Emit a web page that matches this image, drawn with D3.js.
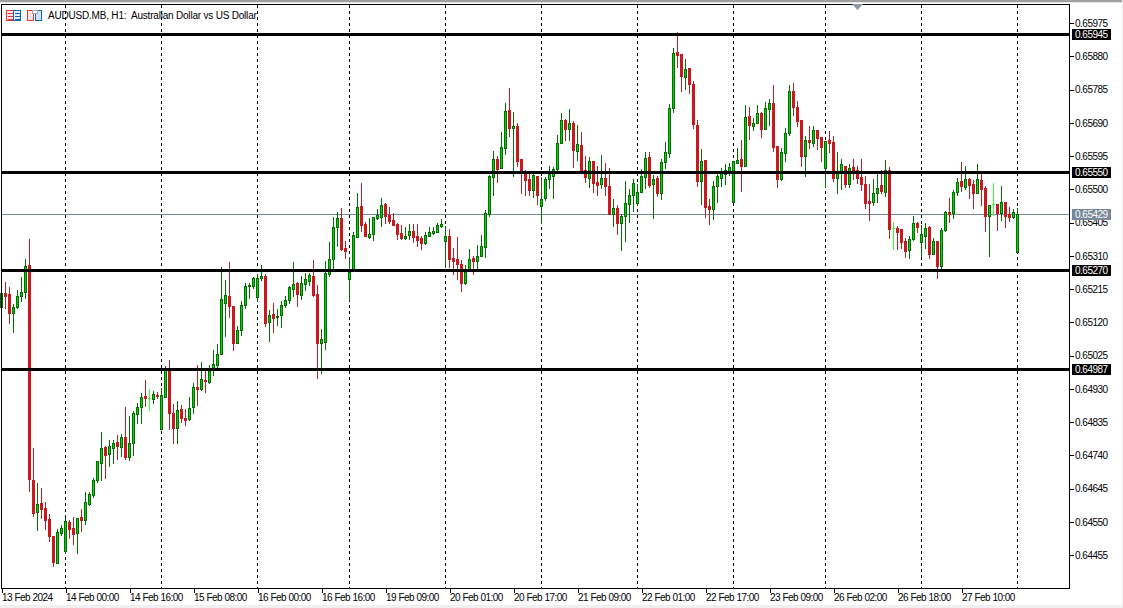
<!DOCTYPE html>
<html>
<head>
<meta charset="UTF-8">
<title>AUDUSD.MB H1</title>
<script src="https://d3js.org/d3.v7.min.js"></script>
<style>
    * { margin: 0; padding: 0; }
    body { background: #fff; width: 1123px; height: 608px; overflow: hidden; }
    svg { display: block; }
    text { font-family: "Liberation Sans", Arial, sans-serif; font-size: 10px; letter-spacing: -0.5px; fill: #000; white-space: pre; }
</style>
</head>
<body>
<svg id="chart" width="1123" height="608"></svg>
<script>
// prices are in points (1 point = 0.00001)
const opens = [
65164,65203,65201,65146,65164,65195,65206,65284,64670,64578,
64604,64589,64558,64510,64432,64518,64467,64549,64532,64518,
64564,64555,64601,64627,64670,64718,64764,64744,64761,64778,
64764,64793,64735,64775,64858,64878,64909,64904,64901,64912,
64816,64907,64981,64861,64818,64872,64847,64844,64878,64935,
64930,64955,64950,64987,64998,65030,65175,65195,65167,65061,
65098,65170,65224,65224,65192,65247,65253,65121,65144,65135,
65141,65170,65184,65215,65232,65198,65230,65238,65253,65201,
65061,65064,65258,65301,65392,65418,65332,65244,65273,65364,
65452,65401,65364,65372,65418,65421,65458,65427,65412,65401,
65375,65361,65370,65381,65367,65361,65347,65367,65375,65378,
65395,65352,65367,65304,65301,65287,65232,65270,65304,65295,
65310,65335,65429,65535,65586,65561,65618,65727,65675,65681,
65586,65552,65530,65498,65538,65452,65475,65530,65538,65558,
65632,65698,65672,65689,65609,65627,65555,65532,65581,65521,
65515,65532,65510,65429,65447,65404,65424,65458,65484,65461,
65492,65535,65592,65515,65532,65489,65578,65603,65732,65893,
65887,65821,65847,65801,65684,65524,65584,65452,65444,65510,
65532,65544,65552,65464,65575,65586,65567,65709,65681,65689,
65718,65672,65730,65746,65624,65530,65604,65661,65781,65735,
65698,65595,65641,65632,65670,65649,65561,65641,65635,65532,
65549,65567,65515,65564,65555,65535,65515,65467,65464,65489,
65512,65492,65555,65390,65390,65387,65352,65327,65358,65404,
65349,65367,65392,65315,65352,65281,65384,65435,65432,65492,
65524,65507,65530,65515,65489,65527,65504,65424,65458,65458,
65432,65464,65429,65421,65321];
const highs = [
65203,65235,65221,65173,65212,65250,65301,65358,64761,64661,
64647,64606,64572,64510,64530,64541,64561,64555,64564,64561,
64586,64635,64635,64676,64724,64807,64767,64784,64784,64799,
64802,64878,64852,64867,64889,64918,64955,64930,64924,64921,
64933,64996,65013,64887,64895,64884,64872,64907,64947,64998,
65007,64981,64998,65041,65059,65279,65241,65292,65167,65110,
65181,65232,65232,65250,65258,65284,65258,65155,65175,65158,
65181,65195,65224,65292,65235,65253,65261,65261,65298,65227,
65101,65295,65349,65421,65435,65447,65352,65307,65378,65489,
65518,65407,65418,65421,65444,65475,65461,65450,65432,65404,
65398,65392,65401,65401,65401,65367,65378,65392,65392,65404,
65415,65395,65387,65332,65364,65298,65284,65330,65310,65341,
65370,65441,65541,65609,65595,65664,65746,65790,65721,65689,
65586,65555,65547,65547,65538,65535,65535,65567,65564,65655,
65718,65701,65730,65695,65684,65664,65595,65592,65581,65567,
65598,65575,65561,65472,65455,65429,65524,65501,65530,65515,
65558,65606,65606,65541,65538,65586,65635,65744,65904,65950,
65887,65873,65847,65809,65698,65615,65584,65472,65524,65549,
65561,65572,65575,65581,65618,65641,65741,65735,65704,65741,
65721,65749,65758,65798,65624,65618,65675,65798,65804,65752,
65698,65652,65681,65681,65670,65649,65638,65667,65652,65606,
65586,65567,65572,65586,65567,65586,65538,65515,65530,65547,
65555,65584,65564,65407,65395,65387,65361,65367,65424,65407,
65398,65404,65395,65361,65352,65390,65438,65475,65498,65532,
65578,65567,65532,65527,65572,65547,65510,65455,65518,65458,
65510,65464,65450,65444,65447];
const lows = [
65164,65161,65118,65092,65161,65181,65189,64638,64567,64527,
64561,64530,64495,64424,64432,64513,64461,64504,64487,64461,
64524,64544,64598,64621,64664,64670,64676,64710,64718,64730,
64738,64730,64727,64741,64832,64832,64881,64870,64889,64904,
64816,64907,64816,64775,64775,64835,64827,64841,64861,64884,
64927,64921,64947,64970,64990,65030,65081,65135,65041,65061,
65084,65161,65189,65218,65181,65241,65110,65067,65092,65112,
65107,65164,65175,65195,65167,65187,65212,65227,65195,64961,
64975,65044,65253,65273,65338,65327,65304,65184,65273,65364,
65381,65367,65361,65355,65415,65395,65404,65404,65398,65358,
65358,65358,65358,65349,65338,65330,65344,65367,65373,65378,
65392,65279,65279,65258,65244,65209,65230,65270,65258,65270,
65310,65307,65424,65484,65521,65561,65601,65652,65538,65567,
65489,65484,65484,65478,65458,65404,65470,65504,65475,65555,
65632,65641,65641,65564,65584,65552,65521,65507,65492,65484,
65504,65484,65429,65395,65372,65327,65352,65407,65438,65455,
65492,65504,65507,65418,65481,65472,65561,65592,65721,65850,
65781,65787,65775,65675,65510,65458,65421,65401,65415,65464,
65510,65515,65541,65464,65575,65495,65567,65644,65670,65689,
65649,65672,65684,65609,65507,65527,65581,65655,65712,65681,
65567,65538,65618,65624,65615,65581,65507,65606,65524,65489,
65501,65507,65507,65530,65518,65498,65447,65412,65455,65464,
65489,65481,65361,65330,65330,65332,65307,65304,65355,65378,
65310,65332,65304,65315,65247,65273,65381,65407,65418,65484,
65495,65501,65475,65447,65489,65455,65381,65310,65427,65384,
65412,65392,65410,65418,65321];
const closes = [
65203,65195,65146,65164,65195,65206,65281,64673,64575,64601,
64586,64555,64510,64435,64521,64532,64552,64530,64515,64561,
64555,64606,64629,64670,64724,64761,64741,64767,64775,64767,
64793,64735,64775,64861,64878,64906,64904,64904,64915,64909,
64912,64984,64861,64818,64870,64847,64841,64875,64935,64930,
64958,64952,64981,65001,65030,65187,65198,65167,65061,65098,
65170,65224,65227,65247,65247,65253,65118,65141,65132,65138,
65170,65184,65221,65230,65201,65232,65244,65256,65198,65061,
65073,65261,65301,65392,65418,65330,65324,65264,65370,65450,
65398,65367,65372,65421,65427,65455,65424,65410,65398,65372,
65361,65367,65381,65364,65355,65347,65370,65378,65381,65398,
65401,65367,65301,65295,65287,65232,65264,65301,65295,65310,
65338,65432,65538,65586,65558,65621,65724,65675,65681,65581,
65549,65527,65498,65541,65484,65472,65530,65544,65558,65632,
65698,65672,65689,65612,65629,65555,65535,65581,65518,65512,
65532,65510,65429,65447,65404,65424,65461,65484,65518,65492,
65538,65589,65512,65530,65489,65578,65606,65732,65890,65884,
65824,65844,65801,65687,65524,65581,65450,65444,65510,65538,
65547,65555,65564,65581,65584,65567,65706,65684,65689,65718,
65672,65732,65746,65621,65530,65606,65661,65781,65735,65695,
65595,65641,65635,65670,65647,65621,65638,65632,65532,65549,
65572,65515,65561,65549,65532,65515,65461,65461,65489,65504,
65495,65555,65387,65390,65378,65349,65324,65358,65404,65392,
65372,65390,65315,65352,65281,65384,65435,65429,65492,65521,
65510,65530,65512,65489,65530,65501,65424,65455,65458,65432,
65464,65424,65421,65435,65429];

const rightTicks = [65975,65880,65785,65690,65595,65500,65405,65310,65215,65120,65025,64930,64835,64740,64645,64550,64455];
const levels = [65945,65550,65270,64987];
const lastPrice = 65429;
const timeIndex = [0,16,32,48,64,80,96,112,128,144,160,176,192,208,224,240];
const timeLabels = ["13 Feb 2024","14 Feb 00:00","14 Feb 16:00","15 Feb 08:00","16 Feb 00:00","16 Feb 16:00","19 Feb 09:00","20 Feb 01:00","20 Feb 17:00","21 Feb 09:00","22 Feb 01:00","22 Feb 17:00","23 Feb 09:00","26 Feb 02:00","26 Feb 18:00","27 Feb 10:00"];
const dayIndex = [16,40,64,87,111,135,159,183,206,230,254];

const LEFT = 1, RIGHT = 1069, TOP = 4, BOTTOM = 588;
const C_UP = "#00d800", C_UP_LINE = "#056b05", C_DOWN = "#c81a1e", C_DOWN_LINE = "#b22222", C_DOJI = "#32ff32", C_LAST = "#778899";

const x = d3.scaleLinear().domain([0, 254]).range([1, 1017]);
const yRaw = d3.scaleLinear().domain([65975, 64455]).range([23, 555]);
const y = v => Math.round(yRaw(v));
const fmt = v => (v / 100000).toFixed(5);

const svg = d3.select("#chart");

// window chrome
svg.append("rect").attr("width", 1123).attr("height", 2).attr("fill", "#a0a0a0");
svg.append("rect").attr("y", 2).attr("width", 1123).attr("height", 1).attr("fill", "#e4e4e4");
svg.append("rect").attr("x", 1122).attr("width", 1).attr("height", 608).attr("fill", "#f0f0f0");
svg.append("rect").attr("y", 605).attr("width", 1123).attr("height", 3).attr("fill", "#f0f0f0");

// title icons
const icons = svg.append("g").attr("shape-rendering", "crispEdges");
icons.append("rect").attr("x", 6.5).attr("y", 10.5).attr("width", 7).attr("height", 10).attr("fill", "#fbe3e3").attr("stroke", "#e8383a");
icons.append("rect").attr("x", 13.5).attr("y", 10.5).attr("width", 7).attr("height", 10).attr("fill", "#e3effa").attr("stroke", "#0a6ab5");
[13, 16, 19].forEach(v => {
    icons.append("rect").attr("x", 8).attr("y", v - 0.5).attr("width", 5).attr("height", 1).attr("fill", "#e8383a");
    icons.append("rect").attr("x", 15).attr("y", v - 0.5).attr("width", 5).attr("height", 1).attr("fill", "#0a6ab5");
});
icons.append("rect").attr("x", 27.5).attr("y", 10.5).attr("width", 6).attr("height", 10).attr("fill", "#fbe3e3").attr("stroke", "#e8383a");
icons.append("rect").attr("x", 35.5).attr("y", 10.5).attr("width", 6).attr("height", 10).attr("fill", "#cfe3f5").attr("stroke", "#0a6ab5");
icons.append("rect").attr("x", 32).attr("y", 10.5).attr("width", 5).attr("height", 3).attr("fill", "#fff").attr("stroke", "#aaaaaa");

svg.append("text").attr("x", 48).attr("y", 19).style("letter-spacing", "-0.2px")
    .text("AUDUSD.MB, H1:  Australian Dollar vs US Dollar");

// day separators
svg.append("g").selectAll("line").data(dayIndex).enter().append("line")
    .attr("x1", d => x(d) + 0.5).attr("x2", d => x(d) + 0.5)
    .attr("y1", TOP + 1).attr("y2", BOTTOM)
    .attr("stroke", "#000").attr("stroke-dasharray", "3,3").attr("shape-rendering", "crispEdges");

// last price line
svg.append("line").attr("x1", LEFT + 1).attr("x2", RIGHT)
    .attr("y1", y(lastPrice) + 0.5).attr("y2", y(lastPrice) + 0.5)
    .attr("stroke", C_LAST).attr("shape-rendering", "crispEdges");

// candles
const bars = d3.range(opens.length).map(i => ({ i, o: opens[i], h: highs[i], l: lows[i], c: closes[i] }));
const candles = svg.append("g").attr("shape-rendering", "crispEdges");
candles.selectAll(".wick").data(bars).enter().append("rect")
    .attr("class", "wick")
    .attr("x", d => x(d.i)).attr("width", 1)
    .attr("y", d => y(d.h)).attr("height", d => Math.max(1, y(d.l) - y(d.h) + 1))
    .attr("fill", d => d.c > d.o ? C_UP_LINE : d.c < d.o ? C_DOWN_LINE : C_DOJI);
candles.selectAll(".up").data(bars.filter(d => d.c > d.o)).enter().append("rect")
    .attr("class", "up")
    .attr("x", d => x(d.i) - 0.5).attr("width", 2)
    .attr("y", d => y(d.c) + 0.5).attr("height", d => y(d.o) - y(d.c))
    .attr("fill", C_UP).attr("stroke", C_UP_LINE);
candles.selectAll(".down").data(bars.filter(d => d.c < d.o)).enter().append("rect")
    .attr("class", "down")
    .attr("x", d => x(d.i) - 1).attr("width", 3)
    .attr("y", d => y(d.o)).attr("height", d => y(d.c) - y(d.o) + 1)
    .attr("fill", C_DOWN);
candles.selectAll(".doji").data(bars.filter(d => d.c === d.o)).enter().append("rect")
    .attr("class", "doji")
    .attr("x", d => x(d.i) - 1).attr("width", 3)
    .attr("y", d => y(d.o)).attr("height", 1)
    .attr("fill", C_DOJI);

// horizontal levels
svg.append("g").selectAll("line").data(levels).enter().append("line")
    .attr("x1", LEFT + 1).attr("x2", RIGHT)
    .attr("y1", d => y(d) + 0.5).attr("y2", d => y(d) + 0.5)
    .attr("stroke", "#000").attr("stroke-width", 3).attr("shape-rendering", "crispEdges");

// frame
svg.append("rect").attr("x", LEFT + 0.5).attr("y", TOP + 0.5)
    .attr("width", RIGHT - LEFT).attr("height", BOTTOM - TOP)
    .attr("fill", "none").attr("stroke", "#000").attr("shape-rendering", "crispEdges");

// chart shift marker
svg.append("path").attr("d", d3.line()([[852, 4], [863, 4], [857.5, 10]]) + "Z").attr("fill", "#8f99a6");

// price axis
const axisY = svg.append("g").attr("transform", `translate(${RIGHT + 0.5},0)`)
    .call(d3.axisRight(yRaw).tickValues(rightTicks).tickSize(4).tickSizeOuter(0).tickFormat(fmt));
axisY.select(".domain").remove();
axisY.selectAll("line").attr("stroke", "#000").attr("shape-rendering", "crispEdges");
axisY.selectAll("text").attr("x", 5.5).attr("dy", "0.34em");
axisY.attr("font-family", null).attr("font-size", null);

// level labels
const labelData = levels.map(v => ({ v, fill: "#000" })).concat([{ v: lastPrice, fill: C_LAST }]);
const labels = svg.append("g").selectAll("g").data(labelData).enter().append("g")
    .attr("transform", d => `translate(1072,${y(d.v)})`);
labels.append("rect").attr("y", -5).attr("width", 39).attr("height", 11).attr("fill", d => d.fill).attr("shape-rendering", "crispEdges");
labels.append("text").attr("x", 3).attr("y", 4).style("fill", "#fff").text(d => fmt(d.v));

// time axis
const axisX = svg.append("g").attr("transform", `translate(0.5,${BOTTOM + 0.5})`)
    .call(d3.axisBottom(x).tickValues(timeIndex).tickSize(4).tickSizeOuter(0).tickFormat((d, i) => timeLabels[i]));
axisX.select(".domain").remove();
axisX.selectAll("line").attr("stroke", "#000").attr("shape-rendering", "crispEdges");
axisX.selectAll("text").attr("x", 0).attr("y", 5.5).attr("text-anchor", "start");
axisX.attr("font-family", null).attr("font-size", null);
</script>
</body>
</html>
